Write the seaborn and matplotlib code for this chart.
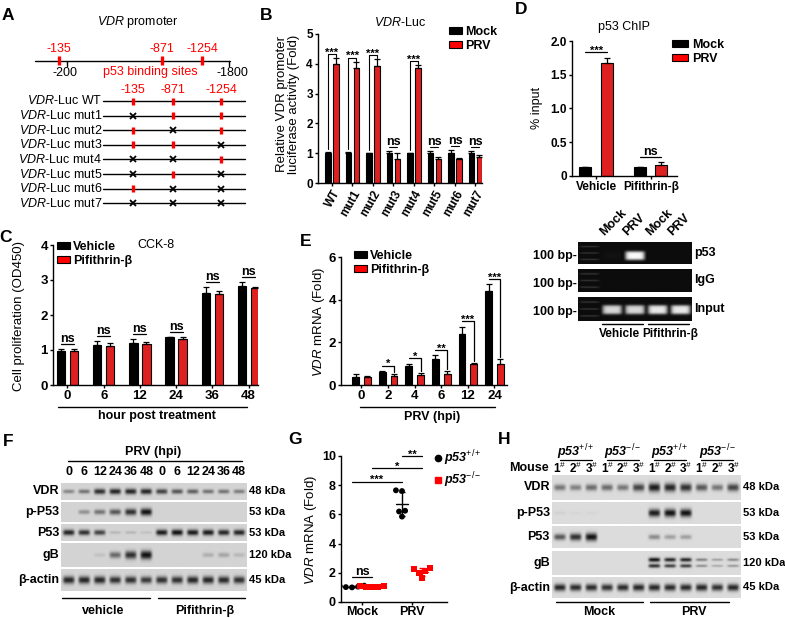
import numpy as np
import pandas as pd
import matplotlib
matplotlib.use("Agg")
import matplotlib.pyplot as plt
from matplotlib.lines import Line2D
from matplotlib.patches import Patch
import seaborn as sns

W, H = 785, 618
RED = '#ff0000'

# ---------------- A: promoter constructs ----------------
site_labels = ['-135', '-871', '-1254']
construct_names = ['WT', 'mut1', 'mut2', 'mut3', 'mut4', 'mut5', 'mut6', 'mut7']
mutated_sites = [[], [0], [1], [2], [0, 1], [0, 2], [1, 2], [0, 1, 2]]

# ---------------- B: VDR-Luc ----------------
luc_mock = [1.0, 1.0, 1.0, 1.0, 1.0, 1.0, 1.01, 1.0]
luc_mock_err = [0.05, 0.03, 0.02, 0.08, 0.02, 0.08, 0.11, 0.09]
luc_prv = [4.0, 3.85, 3.93, 0.79, 3.85, 0.82, 0.82, 0.88]
luc_prv_err = [0.19, 0.22, 0.22, 0.2, 0.11, 0.05, 0.02, 0.06]
luc_sig = ['***', '***', '***', 'ns', '***', 'ns', 'ns', 'ns']

# ---------------- C: CCK-8 ----------------
cck_hours = ['0', '6', '12', '24', '36', '48']
cck_vehicle = [0.98, 1.14, 1.2, 1.36, 2.64, 2.84]
cck_vehicle_err = [0.04, 0.12, 0.11, 0.02, 0.15, 0.11]
cck_pif = [0.97, 1.11, 1.16, 1.31, 2.59, 2.78]
cck_pif_err = [0.06, 0.08, 0.08, 0.05, 0.1, 0.02]

# ---------------- D: p53 ChIP ----------------
chip_groups = ['Vehicle', 'Pifithrin-β']
chip_mock = [0.13, 0.13]
chip_mock_err = [0.01, 0.01]
chip_prv = [1.68, 0.17]
chip_prv_err = [0.07, 0.03]
chip_sig = ['***', 'ns']
# gel lanes: ladder, Mock, PRV, Mock, PRV
gel_lanes = ['Mock', 'PRV', 'Mock', 'PRV']
gel_rows = ['p53', 'IgG', 'Input']
gel_p53 = [0.0, 0.02, 1.0, 0.0, 0.0]
gel_igg = [0.0, 0.0, 0.0, 0.0, 0.0]
gel_input = [0.0, 0.85, 0.85, 0.92, 0.92]

# ---------------- E: VDR mRNA ----------------
vdr_hpi = ['0', '2', '4', '6', '12', '24']
vdr_vehicle = [0.39, 0.62, 0.89, 1.21, 2.37, 4.41]
vdr_vehicle_err = [0.12, 0.04, 0.11, 0.18, 0.36, 0.31]
vdr_pif = [0.37, 0.4, 0.47, 0.53, 1.0, 1.0]
vdr_pif_err = [0.06, 0.12, 0.1, 0.13, 0.05, 0.21]
vdr_sig = ['', '*', '*', '**', '***', '***']

# ---------------- F: western blot (vehicle / pifithrin) ----------------
f_lanes = ['0', '6', '12', '24', '36', '48'] * 2
f_rows = ['VDR', 'p-P53', 'P53', 'gB', 'β-actin']
f_kda = ['48 kDa', '53 kDa', '53 kDa', '120 kDa', '45 kDa']
f_vdr = [0.4, 0.5, 0.85, 0.9, 0.9, 0.9, 0.75, 0.65, 0.6, 0.5, 0.5, 0.45]
f_pp53 = [0.0, 0.35, 0.5, 0.65, 0.85, 1.0, 0, 0, 0, 0, 0, 0]
f_p53 = [0.9, 0.85, 0.75, 0.15, 0.15, 0.1, 0.95, 1.0, 0.95, 0.95, 0.9, 0.9]
f_gb = [0.0, 0.0, 0.1, 0.55, 0.85, 1.0, 0.0, 0.0, 0.0, 0.2, 0.25, 0.15]
f_actin = [0.9, 0.9, 0.9, 0.85, 0.85, 0.8, 0.85, 0.85, 0.9, 0.9, 0.88, 0.85]

# ---------------- G: VDR mRNA in mice ----------------
g_conditions = ['Mock', 'PRV']
g_genotypes = ['p53+/+', 'p53-/-']
g_mock_wt = [1.12, 1.08, 1.05, 1.02, 1.0]
g_mock_ko = [1.1, 1.07, 1.05, 1.03, 1.0]
g_prv_wt = [7.65, 7.6, 6.25, 6.2, 5.85]
g_prv_ko = [2.35, 2.25, 2.1, 2.0, 1.65]

# ---------------- H: western blot (mice) ----------------
h_lanes = ['1', '2', '3'] * 4
h_groups = [r'$\mathbfit{p53}^{+/+}$', r'$\mathbfit{p53}^{-/-}$'] * 2
h_vdr = [0.5, 0.45, 0.55, 0.55, 0.5, 0.75, 0.95, 0.9, 0.85, 0.65, 0.5, 0.75]
h_pp53 = [0.05, 0.03, 0.03, 0, 0, 0, 0.95, 1.0, 1.0, 0, 0, 0]
h_p53 = [0.65, 0.85, 1.0, 0, 0, 0, 0.4, 0.3, 0.3, 0, 0, 0]
h_gb = [0, 0, 0, 0, 0, 0, 1.0, 0.9, 0.9, 0.45, 0.3, 0.4]
h_actin = [0.9, 0.88, 0.88, 0.85, 0.88, 0.9, 0.9, 0.88, 0.88, 0.9, 0.85, 0.9]

# ---------------- style ----------------
sns.set_style('ticks')
plt.rcParams.update({
    'font.family': ['Liberation Sans', 'DejaVu Sans'],
    'font.weight': 'bold',
    'text.color': 'black',
    'axes.edgecolor': 'black',
    'axes.labelcolor': 'black',
    'axes.labelweight': 'normal',
    'axes.linewidth': 1.0,
    'xtick.color': 'black',
    'ytick.color': 'black',
    'xtick.major.width': 1.0,
    'ytick.major.width': 1.0,
    'xtick.major.size': 2.5,
    'ytick.major.size': 2.5,
    'xtick.major.pad': 1.2,
    'ytick.major.pad': 1.2,
    'mathtext.fontset': 'custom',
    'mathtext.rm': 'Liberation Sans:weight=normal',
    'mathtext.it': 'Liberation Sans:style=italic:weight=normal',
    'mathtext.bf': 'Liberation Sans:weight=bold',
    'mathtext.bfit': 'Liberation Sans:style=italic:weight=bold',
})

fig = plt.figure(figsize=(W / 100, H / 100), dpi=100)
ov = fig.add_axes([0, 0, 1, 1])
ov.set_xlim(0, W)
ov.set_ylim(H, 0)
ov.axis('off')


def rect(x0, y0, x1, y1):
    return [x0 / W, 1 - y1 / H, (x1 - x0) / W, (y1 - y0) / H]


def centers(cont):
    return np.array([r.get_x() + r.get_width() / 2 for r in cont])


def place_ylabel(ax, text, px, py, size=10, **kw):
    ax.set_ylabel(text, fontsize=size, fontweight='normal', va='center', **kw)
    l, b, w, h = ax.get_position().bounds
    ax.yaxis.set_label_coords((px / W - l) / w, ((1 - py / H) - b) / h)


def bar_legend(ax, names, x, y, hl=1.0):
    handles = [Patch(facecolor='black', edgecolor='black', lw=0.8),
               Patch(facecolor=RED, edgecolor='black', lw=0.8)]
    ax.legend(handles, names, loc='upper left', bbox_to_anchor=(x / W, 1 - y / H),
              bbox_transform=fig.transFigure, frameon=False,
              prop={'weight': 'bold', 'size': 9}, handlelength=hl, handleheight=0.55,
              handletextpad=0.3, labelspacing=0.15, borderpad=0, borderaxespad=0)


def sig(ax, x, y, s, dy=None):
    if dy is None:
        dy = 1.5 if s == 'ns' else -1
    ax.annotate(s, (x, y), xytext=(0, dy), textcoords='offset points', ha='center',
                va='baseline', fontsize=9 if s == 'ns' else 8, annotation_clip=False)


def bar_panel(rect_px, cats, a, ea, b, eb, names, width, gap, xlim, ylim, yticks,
              yticklabels=None, fs=9):
    ax = fig.add_axes(rect(*rect_px))
    n = len(cats)
    df = pd.DataFrame({'cat': list(cats) * 2, 'val': list(a) + list(b),
                       'grp': [names[0]] * n + [names[1]] * n})
    sns.barplot(data=df, x='cat', y='val', hue='grp', order=cats, hue_order=names,
                palette=['black', RED], width=width, gap=gap, edgecolor='black',
                linewidth=0.8, errorbar=None, legend=False, ax=ax)
    c0, c1 = ax.containers[0], ax.containers[1]
    for cont, err in ((c0, ea), (c1, eb)):
        tops = np.array([r.get_height() for r in cont])
        ax.errorbar(centers(cont), tops, yerr=[np.zeros(len(err)), err], fmt='none',
                    ecolor='black', elinewidth=0.9, capsize=2, capthick=0.9)
    ax.set_xlim(*xlim)
    ax.set_ylim(*ylim)
    ax.set_yticks(yticks)
    if yticklabels is not None:
        ax.set_yticklabels(yticklabels)
    ax.set_xlabel('')
    ax.set_ylabel('')
    ax.tick_params(labelsize=fs)
    sns.despine(ax=ax)
    return ax, centers(c0), centers(c1)


def blot_image(levels, bg=0.84, half=0.32, doublet=False, lane_px=20, rows=30):
    lev = np.repeat(np.asarray(levels, float), lane_px)
    u = (np.arange(lev.size) % lane_px + 0.5) / lane_px - 0.5
    xprof = np.exp(-(np.abs(u) / 0.37) ** 5)
    y = np.linspace(-1, 1, rows)[:, None]
    hw = half * (0.45 + 0.7 * lev) + 1e-6
    if doublet:
        yprof = np.exp(-((y + 0.28) / (0.5 * hw)) ** 2) + 0.85 * np.exp(-((y - 0.25) / (0.45 * hw)) ** 2)
    else:
        yprof = np.exp(-(y / hw) ** 2)
    dark = np.clip(lev * xprof * yprof, 0, 1)
    return bg * (1 - 0.92 * dark)


def gel_image(levels, center, half, lane_px=20, rows=30):
    lev = np.repeat(np.asarray(levels, float), lane_px)
    idx = np.arange(lev.size)
    u = (idx % lane_px + 0.5) / lane_px - 0.5
    xprof = np.exp(-(np.abs(u) / 0.43) ** 6)
    y = np.linspace(-1, 1, rows)[:, None]
    yprof = np.exp(-((y - center) / half) ** 4)
    img = 0.05 + 0.93 * np.clip(lev * xprof * yprof, 0, 1)
    ladder = (idx < lane_px) * xprof
    for rung in (-0.6, 0.0, 0.6):
        img = img + 0.18 * ladder * np.exp(-((y - rung) / 0.06) ** 2)
    return np.clip(img, 0, 1)


def lane_x(x0, x1, n):
    return x0 + (x1 - x0) * (np.arange(n) + 0.5) / n


def letter(x, y, s):
    ov.text(x, y, s, fontsize=12.5, fontweight='bold', ha='center', va='center')


# ================= A =================
letter(8, 15, 'A')
ov.text(138, 22, r'$\it{VDR}$ promoter', ha='center', va='center', fontsize=9, fontweight='normal')
ov.plot([35, 230], [61, 61], color='black', lw=1)
for sx, lab in zip([59, 162, 202], site_labels):
    ov.plot([sx, sx], [56, 65], color=RED, lw=2.4, solid_capstyle='butt')
    ov.text(sx, 49, lab, color=RED, ha='center', va='center', fontsize=9, fontweight='normal')
ov.plot([67, 67], [61, 66], color='black', lw=1)
ov.plot([229, 229], [61, 66], color='black', lw=1)
ov.text(65, 73, '-200', ha='center', va='center', fontsize=9, fontweight='normal')
ov.text(232, 73, '-1800', ha='center', va='center', fontsize=9, fontweight='normal')
ov.text(150, 72, 'p53 binding sites', color=RED, ha='center', va='center', fontsize=9, fontweight='normal')

site_x2 = [133, 173, 221]
for sx, lab in zip(site_x2, site_labels):
    ov.text(sx, 90, lab, color=RED, ha='center', va='center', fontsize=9, fontweight='normal')
row_y = 101 + 14.6 * np.arange(len(construct_names))
for y, name, mut in zip(row_y, construct_names, mutated_sites):
    ov.plot([103, 245], [y, y], color='black', lw=1)
    ov.text(102, y, r'$\it{VDR}$-Luc ' + name, ha='right', va='center', fontsize=9, fontweight='normal')
    for j, sx in enumerate(site_x2):
        if j in mut:
            ov.plot(sx, y, marker='x', color='black', ms=4, mew=1.3)
        else:
            ov.plot([sx, sx], [y - 3.5, y + 3.5], color=RED, lw=2.4, solid_capstyle='butt')

# ================= B =================
letter(266, 15, 'B')
axb, bm, bp = bar_panel((318, 34, 482, 183), construct_names, luc_mock, luc_mock_err,
                        luc_prv, luc_prv_err, ['Mock', 'PRV'], 0.78, 0.33,
                        (-0.68, 7.32), (0, 5), range(6), fs=8.5)
for t in axb.get_xticklabels():
    t.set_rotation(60)
    t.set_ha('right')
    t.set_rotation_mode('anchor')
axb.set_title(r'$\it{VDR}$-Luc', fontsize=9, fontweight='normal', pad=6)
place_ylabel(axb, 'Relative VDR promoter\nluciferase activity (Fold)', 288, 104, size=9.5,
             linespacing=0.95)
bar_legend(axb, ['Mock', 'PRV'], 449, 26)
for i, s in enumerate(luc_sig):
    tm = luc_mock[i] + luc_mock_err[i]
    tp = luc_prv[i] + luc_prv_err[i]
    if s == 'ns':
        h = max(tm, tp) + 0.12
        axb.plot([bm[i], bp[i]], [h, h], color='black', lw=0.8)
    else:
        h = tp + 0.13
        axb.plot([bm[i], bm[i], bp[i], bp[i]], [tm + 0.1, h, h, h - 0.1], color='black', lw=0.8)
    sig(axb, (bm[i] + bp[i]) / 2, h, s)

# ================= C =================
letter(6, 238, 'C')
axc, cv, cp = bar_panel((53, 245, 258, 385), cck_hours, cck_vehicle, cck_vehicle_err,
                        cck_pif, cck_pif_err, ['Vehicle', 'Pifithrin-β'], 0.72, 0.35,
                        (-0.4, 5.26), (0, 4), range(5), fs=9.5)
axc.text(0.5, 1.0, 'CCK-8', transform=axc.transAxes, ha='center', va='center',
         fontsize=9, fontweight='normal')
place_ylabel(axc, 'Cell proliferation (OD450)', 19, 316, size=9.5)
bar_legend(axc, ['Vehicle', 'Pifithrin-β'], 57, 241)
for i in range(len(cck_hours)):
    h = max(cck_vehicle[i] + cck_vehicle_err[i], cck_pif[i] + cck_pif_err[i]) + 0.14
    axc.plot([cv[i], cp[i]], [h, h], color='black', lw=0.9)
    sig(axc, (cv[i] + cp[i]) / 2, h, 'ns')
ov.plot([58, 247], [407, 407], color='black', lw=1)
ov.text(157, 416, 'hour post treatment', ha='center', va='center', fontsize=9)

# ================= D =================
letter(521, 10, 'D')
axd, dm, dp = bar_panel((572, 41, 677, 176), chip_groups, chip_mock, chip_mock_err,
                        chip_prv, chip_prv_err, ['Mock', 'PRV'], 0.78, 0.43,
                        (-0.44, 1.48), (0, 2), [0, 0.5, 1.0, 1.5, 2.0],
                        ['0', '0.5', '1.0', '1.5', '2.0'], fs=8.5)
axd.set_title('p53 ChIP', fontsize=9, fontweight='normal', pad=8)
place_ylabel(axd, '% input', 537, 108, size=9)
bar_legend(axd, ['Mock', 'PRV'], 672, 39, hl=1.3)
for i, s in enumerate(chip_sig):
    h = chip_prv[i] + chip_prv_err[i] + 0.08
    axd.plot([dm[i], dp[i]], [h, h], color='black', lw=0.9)
    sig(axd, (dm[i] + dp[i]) / 2, h, s)

gx0, gx1 = 578, 692
gel_spans = [(242, 264), (269, 292), (297, 321)]
gel_data = [(gel_p53, 0.25, 0.42), (gel_igg, 0.1, 0.4), (gel_input, 0.06, 0.4)]
for (y0, y1), (lev, cen, hw), nm in zip(gel_spans, gel_data, gel_rows):
    axg = fig.add_axes(rect(gx0, y0, gx1, y1))
    axg.imshow(gel_image(lev, cen, hw), cmap='gray', vmin=0, vmax=1, aspect='auto',
               interpolation='bilinear')
    axg.set_axis_off()
    ov.text(gx0 - 1, (y0 + y1) / 2 + 3, '100 bp-', ha='right', va='center', fontsize=9)
    ov.text(gx1 + 2, (y0 + y1) / 2, nm, ha='left', va='center', fontsize=9)
glx = lane_x(gx0, gx1, 5)[1:]
for x, nm in zip(glx, gel_lanes):
    ov.text(x - 6, 238, nm, rotation=45, rotation_mode='anchor', ha='left', va='bottom', fontsize=9)
ov.plot([glx[0] - 10, glx[1] + 8], [324, 324], color='black', lw=1)
ov.plot([glx[2] - 10, glx[3] + 8], [324, 324], color='black', lw=1)
ov.text(619, 334, 'Vehicle', ha='center', va='center', fontsize=8.5)
ov.text(670, 334, 'Pifithrin-β', ha='center', va='center', fontsize=8.5)

# ================= E =================
letter(306, 242, 'E')
axe, ev, ep = bar_panel((341, 257, 507, 385), vdr_hpi, vdr_vehicle, vdr_vehicle_err,
                        vdr_pif, vdr_pif_err, ['Vehicle', 'Pifithrin-β'], 0.89, 0.42,
                        (-0.77, 5.47), (0, 6), [0, 2, 4, 6], fs=9.5)
place_ylabel(axe, r'$\it{VDR}$ mRNA (Fold)', 319, 322, size=9.5)
bar_legend(axe, ['Vehicle', 'Pifithrin-β'], 354, 250)
for i, s in enumerate(vdr_sig):
    if not s:
        continue
    h = vdr_vehicle[i] + vdr_vehicle_err[i] + 0.25
    tp = vdr_pif[i] + vdr_pif_err[i] + 0.08
    axe.plot([ev[i], ep[i], ep[i]], [h, h, tp], color='black', lw=0.9)
    sig(axe, (ev[i] + ep[i]) / 2, h, s)
ov.plot([360, 495], [407, 407], color='black', lw=1)
ov.text(432, 417, 'PRV (hpi)', ha='center', va='center', fontsize=9)

# ================= F =================
letter(8, 441, 'F')
fx0, fx1 = 61, 247
f_spans = [(483, 500), (502, 522), (524, 541), (543, 567), (569, 591)]
f_levels = [f_vdr, f_pp53, f_p53, f_gb, f_actin]
for (y0, y1), lev, nm, kd in zip(f_spans, f_levels, f_rows, f_kda):
    axf = fig.add_axes(rect(fx0, y0, fx1, y1))
    axf.imshow(blot_image(lev, bg=0.83), cmap='gray', vmin=0, vmax=1, aspect='auto',
               interpolation='bilinear')
    axf.set_axis_off()
    ov.text(fx0 - 2, (y0 + y1) / 2, nm, ha='right', va='center', fontsize=9)
    ov.text(fx1 + 2, (y0 + y1) / 2, kd, ha='left', va='center', fontsize=8)
flx = lane_x(fx0, fx1, len(f_lanes))
for x, lab in zip(flx, f_lanes):
    ov.text(x, 472, lab, ha='center', va='center', fontsize=9)
ov.plot([flx[0] - 1, flx[-1] + 3], [461, 461], color='black', lw=1)
ov.text(153, 452, 'PRV (hpi)', ha='center', va='center', fontsize=9)
ov.plot([fx0 + 1, flx[5] + 4], [598, 598], color='black', lw=1)
ov.plot([flx[6] - 4, fx1 - 2], [598, 598], color='black', lw=1)
ov.text((fx0 + flx[5]) / 2, 611, 'vehicle', ha='center', va='center', fontsize=9)
ov.text((flx[6] + fx1) / 2, 611, 'Pifithrin-β', ha='center', va='center', fontsize=9)

# ================= G =================
letter(295, 440, 'G')
axm = fig.add_axes(rect(341, 456, 447, 602))
gdf = pd.DataFrame({
    'condition': ['Mock'] * 10 + ['PRV'] * 10,
    'genotype': ([g_genotypes[0]] * 5 + [g_genotypes[1]] * 5) * 2,
    'value': g_mock_wt + g_mock_ko + g_prv_wt + g_prv_ko,
})
for geno, mk in zip(g_genotypes, ['o', 's']):
    sns.swarmplot(data=gdf[gdf.genotype == geno], x='condition', y='value', hue='genotype',
                  order=g_conditions, hue_order=g_genotypes, palette=['black', RED],
                  dodge=True, marker=mk, size=4.2, linewidth=0, legend=False,
                  warn_thresh=1, ax=axm)
g_sets = [(0 - 0.2, g_mock_wt, 'black'), (0 + 0.2, g_mock_ko, RED),
          (1 - 0.2, g_prv_wt, 'black'), (1 + 0.2, g_prv_ko, RED)]
for x, vals, col in g_sets:
    m, sd = np.mean(vals), np.std(vals, ddof=1)
    axm.errorbar([x], [m], yerr=[sd], fmt='none', ecolor=col, elinewidth=1, capsize=2.5, capthick=1)
    axm.plot([x - 0.12, x + 0.12], [m, m], color=col, lw=1)
axm.set_xlim(-0.42, 1.7)
axm.set_ylim(0, 10)
axm.set_yticks(range(0, 11, 2))
axm.set_xlabel('')
axm.tick_params(labelsize=9)
axm.tick_params(axis='x', pad=0.5)
sns.despine(ax=axm)
place_ylabel(axm, r'$\it{VDR}$ mRNA (Fold)', 311, 530, size=9.5)
xs = [s[0] for s in g_sets]
for (i, j), h, s in zip([(0, 1), (0, 2), (1, 3), (2, 3)], [1.7, 8.25, 9.15, 10.0], ['ns', '***', '*', '**']):
    axm.plot([xs[i], xs[j]], [h, h], color='black', lw=0.9, clip_on=False)
    sig(axm, (xs[i] + xs[j]) / 2, h, s)
g_handles = [Line2D([], [], marker='o', color='black', ls='', ms=4.5),
             Line2D([], [], marker='s', color=RED, ls='', ms=4)]
axm.legend(g_handles, [r'$\mathbfit{p53}^{+/+}$', r'$\mathbfit{p53}^{-/-}$'], loc='upper left',
           bbox_to_anchor=(434 / W, 1 - 448 / H), bbox_transform=fig.transFigure,
           frameon=False, prop={'size': 9}, handlelength=0.6, handletextpad=0.2,
           labelspacing=0.2, borderpad=0, borderaxespad=0)

# ================= H =================
letter(504, 440, 'H')
hx0, hx1 = 552, 741
h_spans = [(475, 500), (502, 524), (526, 548), (551, 575), (577, 598)]
h_levels = [h_vdr, h_pp53, h_p53, h_gb, h_actin]
for (y0, y1), lev, nm, kd in zip(h_spans, h_levels, f_rows, f_kda):
    axh = fig.add_axes(rect(hx0, y0, hx1, y1))
    axh.imshow(blot_image(lev, bg=0.86, doublet=(nm == 'gB')), cmap='gray', vmin=0, vmax=1,
               aspect='auto', interpolation='bilinear')
    axh.set_axis_off()
    ov.text(hx0 - 2, (y0 + y1) / 2, nm, ha='right', va='center', fontsize=9)
    ov.text(hx1 + 2, (y0 + y1) / 2, kd, ha='left', va='center', fontsize=8)
hlx = lane_x(hx0, hx1, len(h_lanes))
ov.text(hx0 - 3, 468, 'Mouse', ha='right', va='center', fontsize=9)
for x, lab in zip(hlx, h_lanes):
    ov.text(x, 468, lab + r'$^{\#}$', ha='center', va='center', fontsize=8.5)
for g, lab in enumerate(h_groups):
    xc = hlx[3 * g + 1]
    ov.text(xc, 452, lab, ha='center', va='center', fontsize=9)
    ov.plot([xc - 16, xc + 16], [460, 460], color='black', lw=0.9)
ov.plot([hlx[0] - 4, hlx[5] + 4], [602, 602], color='black', lw=1)
ov.plot([hlx[6] - 4, hlx[11] - 4], [602, 602], color='black', lw=1)
ov.text((hlx[0] + hlx[5]) / 2, 612, 'Mock', ha='center', va='center', fontsize=9)
ov.text((hlx[6] + hlx[11]) / 2, 612, 'PRV', ha='center', va='center', fontsize=9)

fig.savefig('out.png', dpi=100)
